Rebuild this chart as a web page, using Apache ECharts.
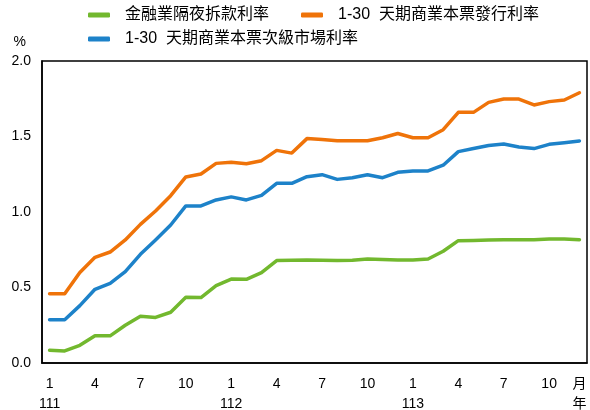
<!DOCTYPE html>
<html>
<head>
<meta charset="utf-8">
<script src="https://cdn.jsdelivr.net/npm/echarts@6/dist/echarts.min.js"></script>
<style>
  html, body { margin: 0; padding: 0; background: #fff; }
  #chart { width: 590px; height: 410px; }
</style>
</head>
<body>
<div id="chart"></div>
<script>
// 民國年 / 月
const years = [111, 112, 113];
const months = [1, 2, 3, 4, 5, 6, 7, 8, 9, 10, 11, 12];
const monthTicks = [1, 4, 7, 10];
const yTicks = [0, 0.5, 1.0, 1.5, 2.0];

// 金融業隔夜拆款利率
const overnightRate = [0.084, 0.080, 0.117, 0.181, 0.180, 0.250, 0.309, 0.302, 0.336, 0.435, 0.433, 0.512,
  0.556, 0.554, 0.598, 0.678, 0.680, 0.682, 0.680, 0.678, 0.680, 0.689, 0.685, 0.682,
  0.682, 0.689, 0.740, 0.810, 0.812, 0.815, 0.817, 0.817, 0.817, 0.821, 0.821, 0.817];
// 1-30 天期商業本票發行利率
const cpIssueRate = [0.459, 0.459, 0.600, 0.700, 0.735, 0.815, 0.918, 1.007, 1.108, 1.232, 1.252, 1.322,
  1.329, 1.320, 1.340, 1.408, 1.390, 1.486, 1.480, 1.472, 1.472, 1.472, 1.492, 1.520,
  1.492, 1.492, 1.545, 1.660, 1.660, 1.726, 1.748, 1.748, 1.709, 1.731, 1.742, 1.790];
// 1-30 天期商業本票次級市場利率
const cpSecondaryRate = [0.287, 0.287, 0.380, 0.488, 0.528, 0.605, 0.720, 0.815, 0.914, 1.040, 1.040, 1.080,
  1.100, 1.080, 1.110, 1.190, 1.190, 1.234, 1.247, 1.216, 1.227, 1.247, 1.227, 1.263,
  1.272, 1.272, 1.310, 1.400, 1.420, 1.440, 1.450, 1.430, 1.420, 1.448, 1.459, 1.470];

const seriesNames = ['金融業隔夜拆款利率', '1-30  天期商業本票發行利率', '1-30  天期商業本票次級市場利率'];
const colors = ['#72b82e', '#ef7309', '#1d82c9'];

const categories = [];
years.forEach(y => months.forEach(m => categories.push(y + '/' + m)));

const fontFamily = 'Liberation Sans, Arial, "Noto Sans CJK TC", sans-serif';

const chart = echarts.init(document.getElementById('chart'));

const makeLine = (name, data, color) => ({
  name,
  type: 'line',
  data,
  symbol: 'none',
  smooth: false,
  lineStyle: { width: 3.5, color, cap: 'round', join: 'round' },
  itemStyle: { color },
  z: 3
});

const legendBase = {
  icon: 'roundRect',
  itemWidth: 22,
  itemHeight: 5,
  itemGap: 32,
  textStyle: { fontSize: 16, color: '#000', fontFamily, padding: [0, 0, 0, 10] },
  selectedMode: false
};

const option = {
  animation: false,
  textStyle: { fontFamily },
  legend: [
    Object.assign({}, legendBase, { data: [seriesNames[0], seriesNames[1]], left: 83, top: 2 }),
    Object.assign({}, legendBase, { data: [seriesNames[2]], left: 83, top: 26 })
  ],
  grid: {
    left: 42,
    right: 3,
    top: 61,
    bottom: 47,
    show: true,
    borderColor: '#000',
    borderWidth: 1.5,
    containLabel: false,
    outerBoundsMode: 'none'
  },
  xAxis: {
    type: 'category',
    data: categories,
    boundaryGap: true,
    axisLine: { lineStyle: { color: '#000', width: 1.5 } },
    axisTick: { inside: true, length: 9, lineStyle: { color: '#cfcfcf', width: 1.5 } },
    axisLabel: {
      interval: 0,
      color: '#000',
      fontSize: 14,
      lineHeight: 20,
      margin: 11,
      formatter: (val, idx) => {
        if (idx === categories.length - 1) return '月\n年';
        const [y, m] = val.split('/').map(Number);
        if (!monthTicks.includes(m)) return '';
        return m === 1 ? m + '\n' + y : String(m);
      }
    }
  },
  yAxis: {
    type: 'value',
    min: yTicks[0],
    max: yTicks[yTicks.length - 1],
    interval: 0.5,
    name: '%',
    nameLocation: 'end',
    nameGap: 12,
    nameTextStyle: { color: '#000', fontSize: 14, align: 'right', padding: [0, 16, 0, 0] },
    axisLine: { show: true, lineStyle: { color: '#000', width: 1.5 } },
    axisTick: { inside: true, length: 10, lineStyle: { color: '#cfcfcf', width: 1.5 } },
    splitLine: { show: false },
    axisLabel: {
      color: '#000',
      fontSize: 14,
      margin: 11,
      formatter: v => v.toFixed(1)
    }
  },
  series: [
    makeLine(seriesNames[0], overnightRate, colors[0]),
    makeLine(seriesNames[1], cpIssueRate, colors[1]),
    makeLine(seriesNames[2], cpSecondaryRate, colors[2])
  ]
};

chart.setOption(option);
</script>
</body>
</html>
